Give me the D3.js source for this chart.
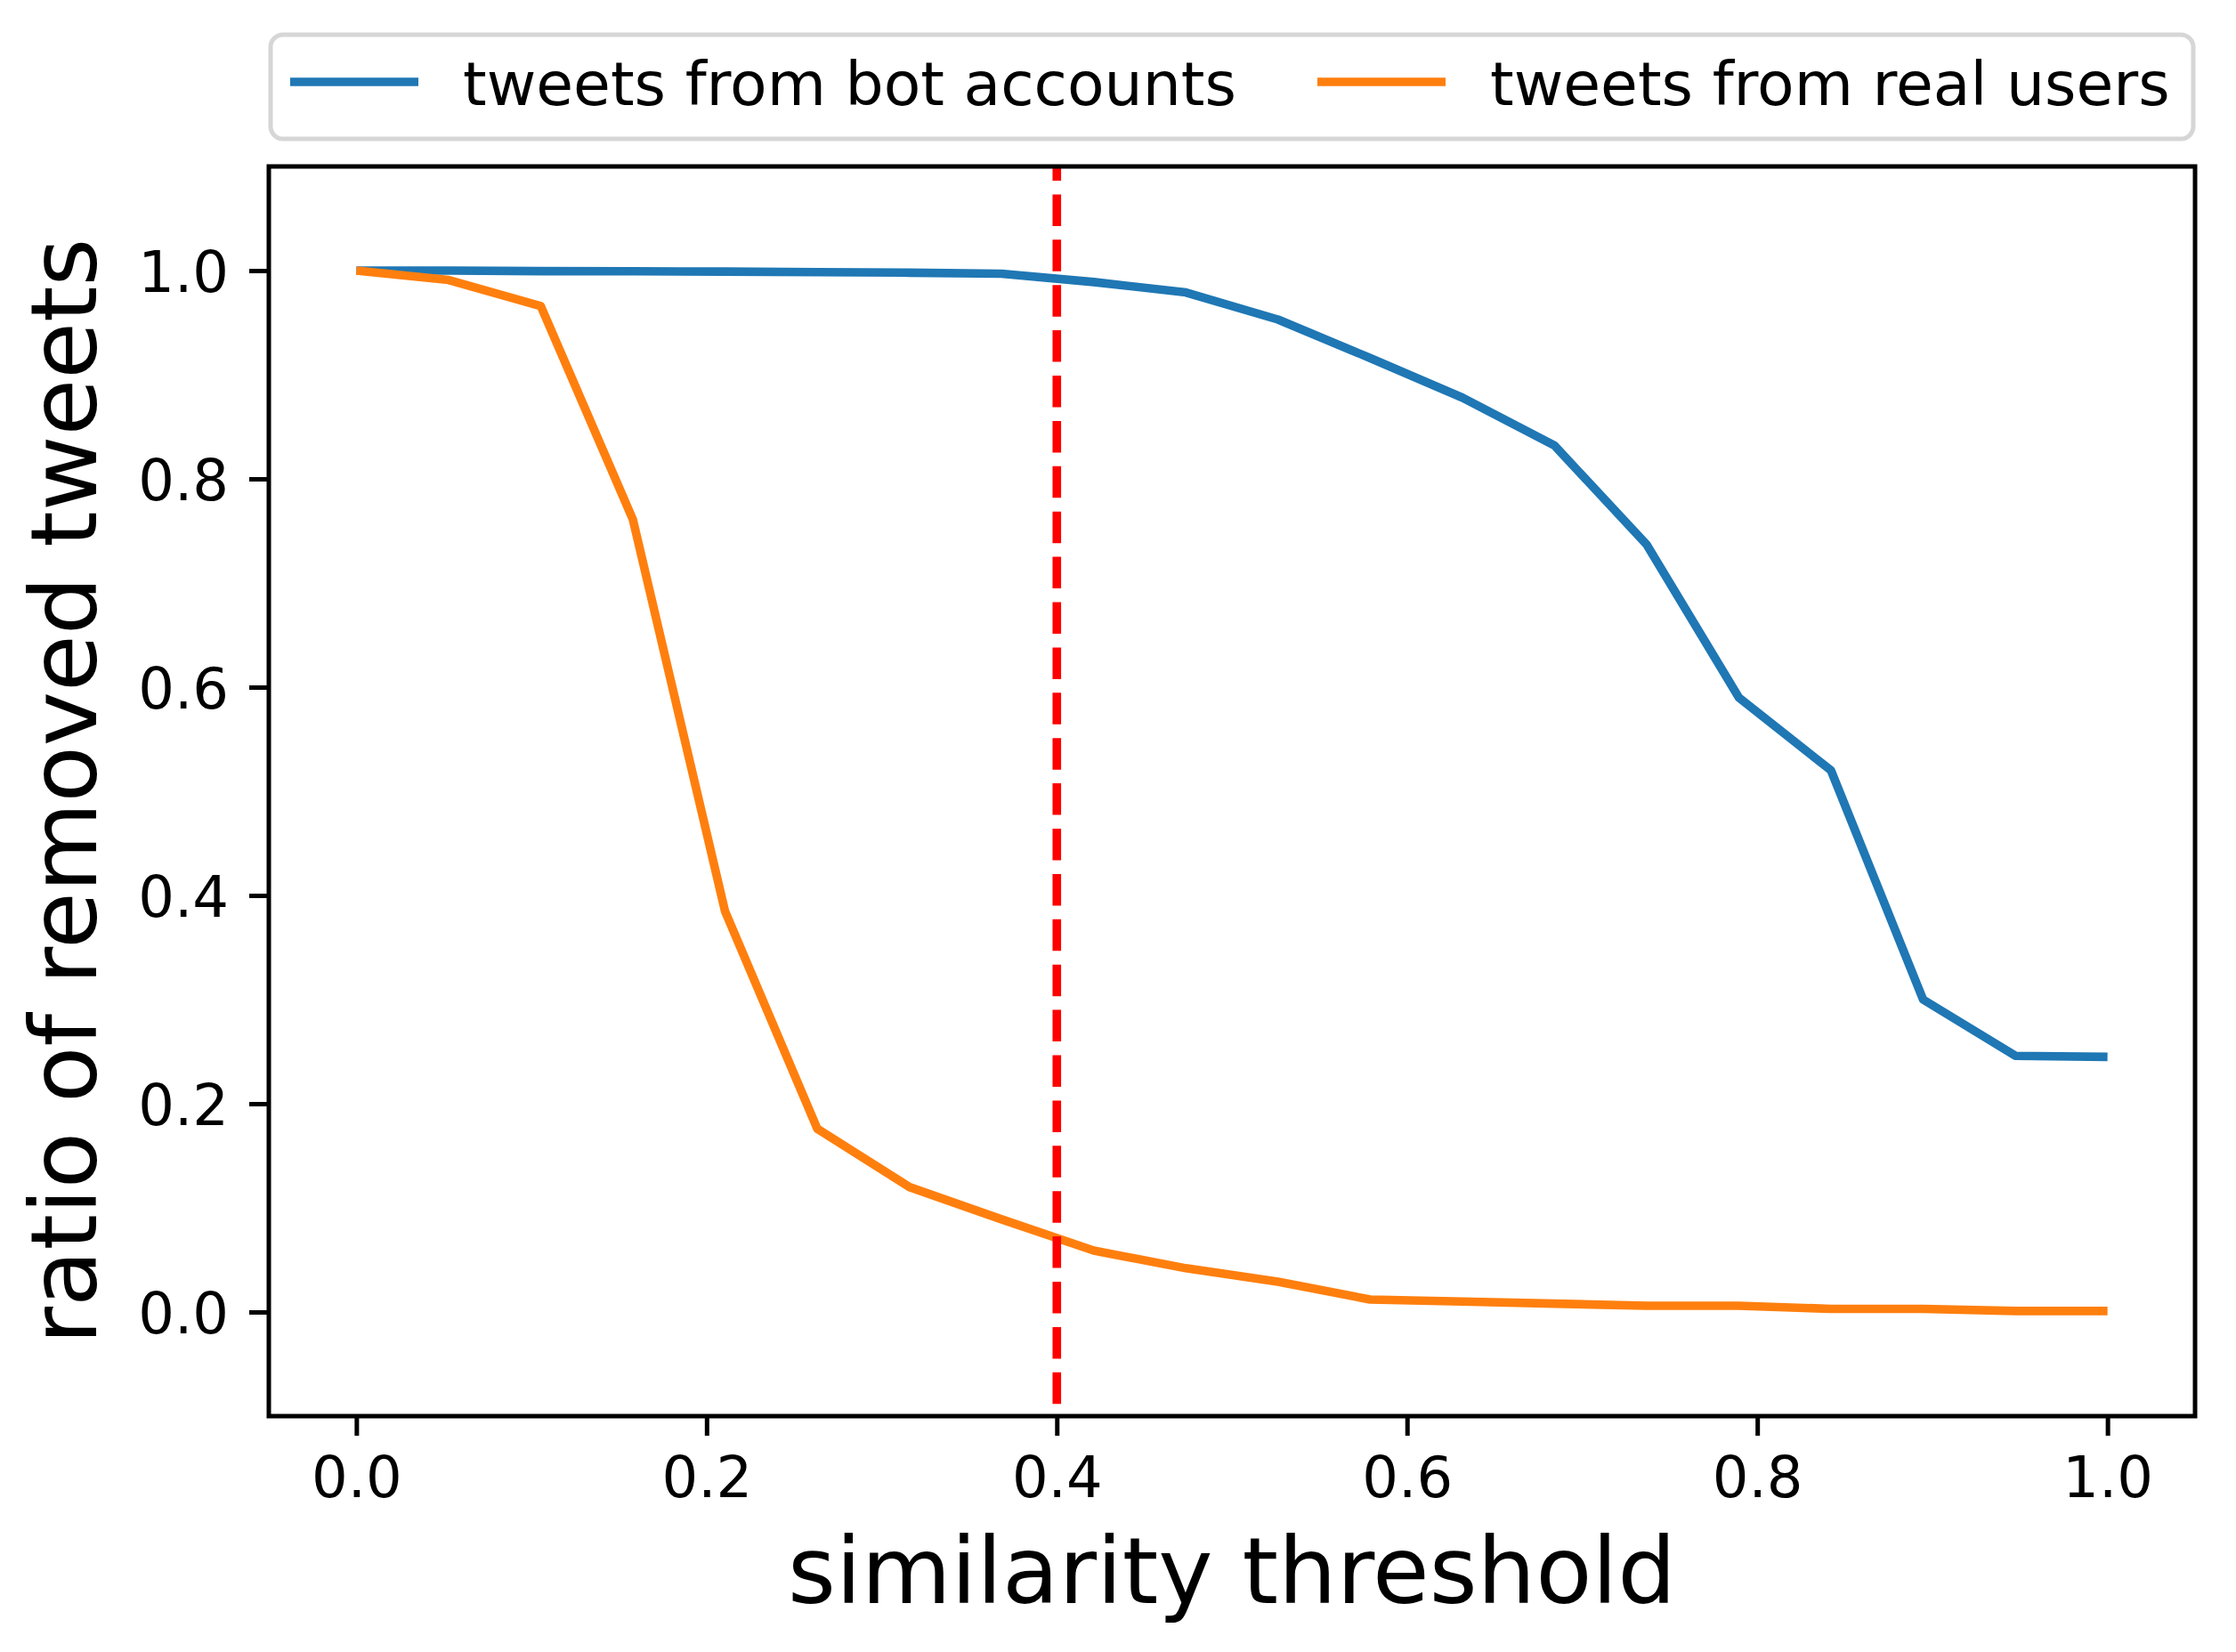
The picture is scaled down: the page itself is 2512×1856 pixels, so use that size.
<!DOCTYPE html>
<html>
<head>
<meta charset="utf-8">
<script src="https://cdn.jsdelivr.net/npm/d3@7"></script>
<style>
	body { margin: 0; background: #fff; }
	svg { display: block; font-family: "DejaVu Sans", sans-serif; }
</style>
</head>
<body>
<svg id="chart" width="2512" height="1856"></svg>
<script>
// similarity thresholds (x) and the two series
var thresholds = [0.0, 0.0526, 0.1053, 0.1579, 0.2105, 0.2632, 0.3158, 0.3684, 0.4211, 0.4737,
	0.5263, 0.5789, 0.6316, 0.6842, 0.7368, 0.7895, 0.8421, 0.8947, 0.9474, 1.0];
var botRatio = [1.0, 1.0, 0.9995, 0.9993, 0.999, 0.9985, 0.998, 0.997, 0.989, 0.979,
	0.953, 0.916, 0.878, 0.832, 0.737, 0.590, 0.520, 0.300, 0.246, 0.245];
var realRatio = [1.0, 0.991, 0.966, 0.761, 0.385, 0.176, 0.120, 0.089, 0.059, 0.042,
	0.029, 0.012, 0.010, 0.008, 0.006, 0.006, 0.003, 0.003, 0.001, 0.001];
var seriesNames = ["tweets from bot accounts", "tweets from real users"];
var seriesColors = ["#1f77b4", "#ff7f0e"];
var xTicks = [0.0, 0.2, 0.4, 0.6, 0.8, 1.0];
var yTicks = [0.0, 0.2, 0.4, 0.6, 0.8, 1.0];
var cutoff = 0.4;

var svg = d3.select("#chart");
var plot = { left: 302, right: 2466, top: 187, bottom: 1591 };

var x = d3.scaleLinear().domain([-0.05, 1.05]).range([plot.left, plot.right]);
var y = d3.scaleLinear().domain([-0.1, 1.1]).range([plot.bottom, plot.top]);

function drawAxes()
{
	var xAxis = d3.axisBottom(x).tickValues(xTicks).tickFormat(d3.format(".1f"))
		.tickSize(22).tickSizeOuter(0).tickPadding(24);
	var yAxis = d3.axisLeft(y).tickValues(yTicks).tickFormat(d3.format(".1f"))
		.tickSize(22).tickSizeOuter(0).tickPadding(23);

	var gx = svg.append("g").attr("transform", "translate(0," + plot.bottom + ")").call(xAxis);
	var gy = svg.append("g").attr("transform", "translate(" + plot.left + ",0)").call(yAxis);

	[gx, gy].forEach(function(g) {
		g.select(".domain").remove();
		g.selectAll(".tick line").attr("stroke", "#000").attr("stroke-width", 5);
		g.selectAll(".tick text").attr("fill", "#000").style("font-size", "64px")
			.style("font-family", "DejaVu Sans");
	});
	gy.selectAll(".tick text").attr("dy", "0.36em");

	// axis labels
	svg.append("text")
		.attr("x", (plot.left + plot.right) / 2)
		.attr("y", 1801)
		.attr("text-anchor", "middle")
		.style("font-size", "103.5px")
		.text("similarity threshold");

	svg.append("text")
		.attr("transform", "translate(108," + ((plot.top + plot.bottom) / 2) + ") rotate(-90)")
		.attr("text-anchor", "middle")
		.style("font-size", "103.5px")
		.text("ratio of removed tweets");
}

function drawLines()
{
	var line = d3.line()
		.x(function(d) { return x(d[0]); })
		.y(function(d) { return y(d[1]); });

	[botRatio, realRatio].forEach(function(vals, i) {
		svg.append("path")
			.datum(d3.zip(thresholds, vals))
			.attr("d", line)
			.attr("fill", "none")
			.attr("stroke", seriesColors[i])
			.attr("stroke-width", 9.6)
			.attr("stroke-linejoin", "round");
	});

	// chosen threshold
	svg.append("line")
		.attr("x1", x(cutoff)).attr("x2", x(cutoff))
		.attr("y1", plot.top).attr("y2", plot.bottom)
		.attr("stroke", "#ff0000")
		.attr("stroke-width", 9.6)
		.attr("stroke-dasharray", "35.5,15.4")
		.attr("stroke-dashoffset", 19.5);
}

function drawFrame()
{
	svg.append("rect")
		.attr("x", plot.left).attr("y", plot.top)
		.attr("width", plot.right - plot.left)
		.attr("height", plot.bottom - plot.top)
		.attr("fill", "none")
		.attr("stroke", "#000")
		.attr("stroke-width", 5);
}

function drawLegend()
{
	svg.append("rect")
		.attr("x", 304).attr("y", 39)
		.attr("width", 2160).attr("height", 117)
		.attr("rx", 14).attr("ry", 14)
		.attr("fill", "#fff")
		.attr("stroke", "#d6d6d6")
		.attr("stroke-width", 5);

	var handleX = [326, 1480];
	var items = svg.selectAll(".legend-item").data(seriesNames).enter().append("g")
		.attr("class", "legend-item")
		.attr("transform", function(d, i) { return "translate(" + handleX[i] + ",0)"; });

	items.append("line")
		.attr("x1", 0).attr("x2", 144)
		.attr("y1", 92).attr("y2", 92)
		.attr("stroke", function(d, i) { return seriesColors[i]; })
		.attr("stroke-width", 9.6);

	items.append("text")
		.attr("x", 194)
		.attr("y", 118)
		.style("font-size", "68px")
		.text(function(d) { return d; });
}

drawLines();
drawFrame();
drawAxes();
drawLegend();
</script>
</body>
</html>
